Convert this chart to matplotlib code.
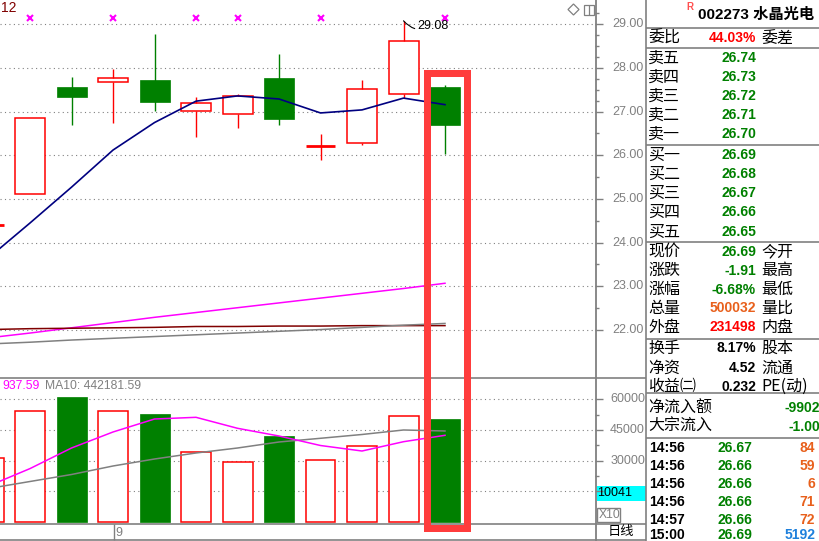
import matplotlib
matplotlib.use('Agg')
import matplotlib.pyplot as plt
from matplotlib.patches import Rectangle, Polygon

# ---------------- data ----------------
candle_idx = list(range(12))
opens  = [24.40, 25.11, 27.56, 27.69, 27.72, 27.01, 26.94, 27.77, 26.22, 26.28, 27.40, 27.56]
closes = [24.40, 26.85, 27.34, 27.76, 27.23, 27.19, 27.35, 26.84, 26.22, 27.51, 28.61, 26.69]
highs  = [24.40, 26.85, 27.79, 27.98, 28.78, 27.34, 27.40, 28.32, 26.49, 27.72, 29.08, 27.61]
lows   = [24.40, 25.11, 26.70, 26.75, 27.02, 26.43, 26.63, 26.70, 25.90, 26.24, 27.31, 26.04]
volumes = [31300, 54290, 61130, 54290, 52820, 34090, 29200, 42060, 30160, 37170, 51690, 50370]

ma_navy    = [23.65, 24.45, 25.27, 26.12, 26.75, 27.24, 27.36, 27.29, 26.97, 27.04, 27.31, 27.16]
ma_magenta = [21.82, 21.93, 22.05, 22.17, 22.29, 22.40, 22.51, 22.62, 22.73, 22.84, 22.95, 23.07]
ma_maroon  = [22.01, 22.03, 22.04, 22.05, 22.06, 22.08, 22.08, 22.09, 22.09, 22.10, 22.10, 22.10]
ma_gray    = [21.68, 21.72, 21.77, 21.81, 21.85, 21.89, 21.93, 21.97, 22.01, 22.06, 22.11, 22.15]

vol_ma5  = [17600, 26120, 36190, 44020, 50370, 51200, 45830, 42060, 37410, 34720, 39270, 42400]
vol_ma10 = [16380, 19810, 23230, 27390, 30810, 33750, 36190, 39130, 40940, 42800, 45000, 44510]

signal_idx = [1, 3, 5, 6, 8, 11]
signal_price = 29.14
high_label = "29.08"

price_ticks = [22, 23, 24, 25, 26, 27, 28, 29]
price_tick_labels = ["22.00", "23.00", "24.00", "25.00", "26.00", "27.00", "28.00", "29.00"]
vol_ticks = [15000, 30000, 45000, 60000]
vol_tick_labels = ["", "30000", "45000", "60000"]

vol_label_ma5 = "937.59"
vol_label_ma10 = "MA10: 442181.59"

stock_title = "002273 水晶光电"
ratio_row = ("委比", "44.03%", "委差")
sell_labels = ["卖五", "卖四", "卖三", "卖二", "卖一"]
sell_prices = ["26.74", "26.73", "26.72", "26.71", "26.70"]
buy_labels = ["买一", "买二", "买三", "买四", "买五"]
buy_prices = ["26.69", "26.68", "26.67", "26.66", "26.65"]
quote_labels = ["现价", "涨跌", "涨幅", "总量", "外盘"]
quote_values = ["26.69", "-1.91", "-6.68%", "500032", "231498"]
quote_right = ["今开", "最高", "最低", "量比", "内盘"]
fin_labels = ["换手", "净资", "收益㈡"]
fin_values = ["8.17%", "4.52", "0.232"]
fin_right = ["股本", "流通", "PE(动)"]
flow_labels = ["净流入额", "大宗流入"]
flow_values = ["-9902", "-1.00"]
trade_times = ["14:56", "14:56", "14:56", "14:56", "14:57", "15:00"]
trade_prices = ["26.67", "26.66", "26.66", "26.66", "26.66", "26.69"]
trade_vols = ["84", "59", "6", "71", "72", "5192"]

# ---------------- style ----------------
RED = '#FF0000'
GREEN = '#008000'
NAVY = '#000080'
MAG = '#FF00FF'
MAROON = '#800000'
GRAY = '#808080'
ORANGE = '#E8601C'
BLUE = '#1E80DC'
NUM = ['Liberation Sans', 'Noto Sans CJK SC']
CJK = ['Noto Sans CJK SC', 'DejaVu Sans']

W, H = 819, 541
fig = plt.figure(figsize=(W / 100, H / 100), dpi=100)
fig.patch.set_facecolor('white')

def px_axes(x0, y0, x1, y1):
    return fig.add_axes([x0 / W, 1 - y1 / H, (x1 - x0) / W, (y1 - y0) / H])

# index <-> pixel mapping: center of candle i at 30 + (i-1)*41.5 px
step = 41.5
xlo = (0 - 30) / step + 1
xhi = (595 - 30) / step + 1
bw = 30 / step

# ---------------- price panel ----------------
ax = px_axes(0, 0, 595, 377)
ax.set_xlim(xlo, xhi)
ax.set_ylim(29 - (377 - 24.3) / 43.67, 29 + 24.3 / 43.67)
ax.axis('off')
for p in price_ticks:
    ax.axhline(p, color=GRAY, lw=0.8, ls=(0, (1, 3)), zorder=0)

for i, o, c, h, l in zip(candle_idx, opens, closes, highs, lows):
    up = c >= o
    col = RED if up else GREEN
    top, bot = max(o, c), min(o, c)
    if top - bot < 0.02:
        ax.vlines(i, l, h, color=col, lw=1.0, zorder=3)
        ax.hlines(top, i - bw / 2, i + bw / 2, color=col, lw=2.0, zorder=3)
    elif up:
        ax.add_patch(Rectangle((i - bw / 2, bot), bw, top - bot, facecolor='white',
                               edgecolor=col, lw=1.1, zorder=3))
        if h > top:
            ax.vlines(i, top, h, color=col, lw=1.0, zorder=3)
        if l < bot:
            ax.vlines(i, l, bot, color=col, lw=1.0, zorder=3)
    else:
        ax.vlines(i, l, h, color=col, lw=1.0, zorder=2)
        ax.add_patch(Rectangle((i - bw / 2, bot), bw, top - bot, facecolor=col,
                               edgecolor=col, lw=0.5, zorder=3))

ax.plot(candle_idx, ma_magenta, color=MAG, lw=1.1, zorder=4)
ax.plot(candle_idx, ma_maroon, color=MAROON, lw=1.1, zorder=4)
ax.plot(candle_idx, ma_gray, color=GRAY, lw=1.1, zorder=4)
ax.plot(candle_idx, ma_navy, color=NAVY, lw=1.2, zorder=5)
ax.plot(signal_idx, [signal_price] * len(signal_idx), ls='none', marker='x',
        color=MAG, ms=4, mew=1.5, zorder=5)

# high annotation (small flag glyph + value)
hi_i = highs.index(max(highs))
ax.annotate(high_label, xy=(hi_i, max(highs)), xytext=(14, -5), textcoords='offset pixels',
            fontsize=9, family=NUM, color='black', va='center', ha='left', zorder=6,
            arrowprops=dict(arrowstyle='-', color='black', lw=0.8,
                            connectionstyle='arc3,rad=-0.4', shrinkA=0, shrinkB=0))

# ---------------- volume panel ----------------
vx = px_axes(0, 378, 595, 523)
vx.set_xlim(xlo, xhi)
vx.set_ylim((522 - 523) / 30.67 * 15000, (522 - 378) / 30.67 * 15000)
vx.axis('off')
for v in vol_ticks:
    vx.axhline(v, color=GRAY, lw=0.8, ls=(0, (1, 3)), zorder=0)
for i, o, c, v in zip(candle_idx, opens, closes, volumes):
    if c >= o:
        vx.add_patch(Rectangle((i - bw / 2, 0), bw, v, facecolor='white',
                               edgecolor=RED, lw=1.1, zorder=3))
    else:
        vx.add_patch(Rectangle((i - bw / 2, 0), bw, v, facecolor=GREEN,
                               edgecolor=GREEN, lw=0.5, zorder=3))
vx.plot(candle_idx, vol_ma10, color=GRAY, lw=1.1, zorder=4)
vx.plot(candle_idx, vol_ma5, color=MAG, lw=1.1, zorder=4)

# ---------------- overlay (pixel coords) ----------------
ov = fig.add_axes([0, 0, 1, 1], facecolor='none')
ov.set_xlim(0, W)
ov.set_ylim(H, 0)
ov.axis('off')

def hl(y, x0, x1, c=GRAY, lw=1.0):
    ov.plot([x0, x1], [y, y], color=c, lw=lw, solid_capstyle='butt')

def vl(x, y0, y1, c=GRAY, lw=1.0):
    ov.plot([x, x], [y0, y1], color=c, lw=lw, solid_capstyle='butt')

# right price axis
vl(595.5, 0, 541, lw=1.3)
hl(377.5, 0, 646, lw=1.2)
hl(523.5, 0, 646, lw=1.2)
hl(539.5, 0, 646, lw=1.2)
vl(113.5, 524, 540)
ov.text(115, 533, "9", fontsize=9, family=NUM, color=GRAY, va='center', ha='left')

def p2y(p):
    return 24.3 + (29 - p) * 43.67

for p, lab in zip(price_ticks, price_tick_labels):
    y = p2y(p)
    hl(y, 595, 603)
    ov.text(643.5, y, lab, fontsize=9, family=NUM, color=GRAY, va='center', ha='right')
minor = [22.5, 23.5, 24.5, 25.5, 26.5, 27.25, 27.5, 27.75, 28.25, 28.5, 28.75, 29.25]
for p in minor:
    hl(p2y(p), 595, 599)

def v2y(v):
    return 522 - v / 15000 * 30.67

for v, lab in zip(vol_ticks, vol_tick_labels):
    y = v2y(v)
    hl(y, 595, 603)
    if lab:
        ov.text(645, y, lab, fontsize=9, family=NUM, color=GRAY, va='center', ha='right')
for v in [22500, 37500, 52500]:
    hl(v2y(v), 595, 599)

ov.add_patch(Rectangle((596.5, 486), 49, 15, facecolor='#00FFFF', edgecolor='none'))
ov.text(597.5, 493.5, "10041", fontsize=9, family=NUM, color='black', va='center', ha='left')
ov.add_patch(Rectangle((597, 507.5), 23, 14.5, facecolor='white', edgecolor=GRAY, lw=1))
ov.text(598.5, 515, "X10", fontsize=8.7, family=NUM, color=GRAY, va='center', ha='left')
ov.text(620.5, 532, "日线", fontsize=9.5, family=CJK, color='black', va='center', ha='center')

# volume label
ov.text(2, 386, vol_label_ma5, fontsize=8.7, family=NUM, color=MAG, va='center', ha='left')
ov.text(45, 386, vol_label_ma10, fontsize=8.7, family=NUM, color=GRAY, va='center', ha='left')

# top-left / top-right marks
ov.text(1, 8, "12", fontsize=10, family=NUM, color=MAROON, va='center', ha='left')
ov.add_patch(Polygon([[568, 9.5], [573.5, 4], [579, 9.5], [573.5, 15]], closed=True,
                     facecolor='none', edgecolor=GRAY, lw=0.9))
ov.add_patch(Rectangle((583.5, 4.5), 10, 10, facecolor='none', edgecolor=GRAY, lw=0.9))
vl(588.5, 4.5, 14.5, lw=0.9)

# ---------------- info panel ----------------
vl(645.5, 0, 541, lw=1.2)
for y in [27.5, 47.5, 144.5, 241.5, 339, 393, 437.5]:
    hl(y, 646, 819, lw=1.2)

LX, VX, RX = 648, 756, 761
FS_C, FS_N = 11.5, 10

ov.text(686, 7, "R", fontsize=7, family=NUM, weight='bold', color='#FF5050', va='center', ha='left')
ov.text(698, 15, stock_title, fontsize=11, family=NUM, weight='bold', color='black',
        va='center', ha='left')

def row(y, lab, val, vcol, right=None, vx_=VX):
    ov.text(LX, y, lab, fontsize=FS_C, family=CJK, color='black', va='center', ha='left')
    ov.text(vx_, y, val, fontsize=FS_N, family=NUM, weight='bold', color=vcol,
            va='center', ha='right')
    if right:
        ov.text(RX, y, right, fontsize=FS_C, family=CJK, color='black', va='center', ha='left')

row(38, ratio_row[0], ratio_row[1], RED, ratio_row[2])
for y, l, v in zip([58, 77, 96, 115, 134], sell_labels, sell_prices):
    row(y, l, v, GREEN)
for y, l, v in zip([155, 174, 193, 212, 232], buy_labels, buy_prices):
    row(y, l, v, GREEN)
qcols = [GREEN, GREEN, GREEN, ORANGE, RED]
for y, l, v, c, r in zip([251.7, 270.7, 289.7, 308.5, 327.3], quote_labels, quote_values, qcols, quote_right):
    row(y, l, v, c, r)
for y, l, v, r in zip([348.3, 368.3, 386.7], fin_labels, fin_values, fin_right):
    row(y, l, v, 'black', r)
for y, l, v in zip([408.3, 426.7], flow_labels, flow_values):
    row(y, l, v, GREEN, None, vx_=820)

tcols = [ORANGE] * 5 + [BLUE]
for y, t, p, v, c in zip([448.3, 466.3, 484.3, 502.3, 520.3, 535.0], trade_times, trade_prices, trade_vols, tcols):
    ov.text(649, y, t, fontsize=FS_N, family=NUM, weight='bold', color='black', va='center', ha='left')
    ov.text(752, y, p, fontsize=FS_N, family=NUM, weight='bold', color=GREEN, va='center', ha='right')
    ov.text(815, y, v, fontsize=FS_N, family=NUM, weight='bold', color=c, va='center', ha='right')

# red highlight rectangle
ov.add_patch(Rectangle((426.5, 72.5), 40, 455, facecolor='none', edgecolor='#FF3C3C',
                       lw=5.04, joinstyle='miter', zorder=10))

fig.savefig('out.png', dpi=100)
